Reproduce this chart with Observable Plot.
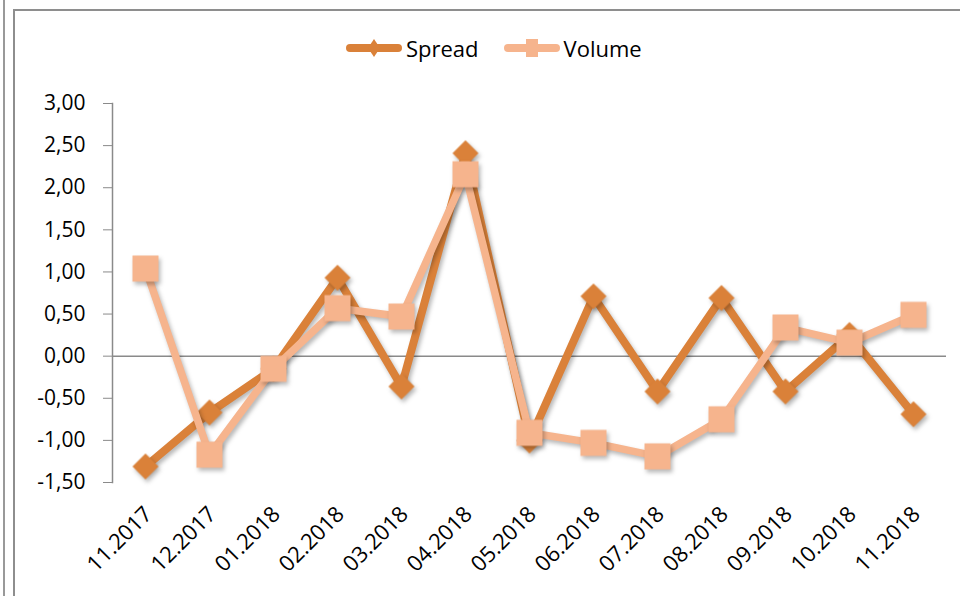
<!DOCTYPE html>
<html>
<head>
<meta charset="utf-8">
<script src="https://cdn.jsdelivr.net/npm/d3@7"></script>
<script src="https://cdn.jsdelivr.net/npm/@observablehq/plot@0.6"></script>
<style>
  html, body { margin: 0; padding: 0; background: #fff; }
  #page { position: relative; width: 960px; height: 596px; overflow: hidden; font-family: "Open Sans", sans-serif; }
  #edge1 { position: absolute; left: 3px; top: 0; width: 2px; height: 596px; background: #999; }
  #edge2 { position: absolute; left: 13px; top: 9px; width: 1000px; height: 700px; border-left: 2px solid #8e8e8e; border-top: 2px solid #8e8e8e; }
  #legend { position: absolute; left: 345px; top: 33px; height: 30px; display: flex; align-items: center; font-size: 22px; color: #000; }
  #legend .item { display: flex; align-items: center; margin-right: 24px; }
  #legend svg { display: block; margin-right: 3px; }
  #chart { position: absolute; left: 0; top: 80px; }
  .shadow { filter: drop-shadow(2px 3px 2px rgba(0,0,0,0.28)); }
</style>
</head>
<body>
<div id="page">
  <div id="edge1"></div>
  <div id="edge2"></div>
  <div id="legend"></div>
  <div id="chart"></div>
</div>
<script>
const months = ["11.2017","12.2017","01.2018","02.2018","03.2018","04.2018","05.2018","06.2018","07.2018","08.2018","09.2018","10.2018","11.2018"];
const spread = [-1.31,-0.67,-0.15,0.93,-0.36,2.41,-1.00,0.71,-0.42,0.69,-0.42,0.25,-0.69];
const volume = [1.04,-1.17,-0.15,0.57,0.47,2.16,-0.91,-1.03,-1.19,-0.75,0.34,0.16,0.49];
const seriesNames = ["Spread","Volume"];
const seriesColors = ["#DA8139","#F6B48D"];
const yTicks = [-1.5,-1,-0.5,0,0.5,1,1.5,2,2.5,3];

const dS = months.map((m,i)=>({month:m, value:spread[i]}));
const dV = months.map((m,i)=>({month:m, value:volume[i]}));
const fmt = d => d.toFixed(2).replace(".", ",");

const chart = Plot.plot({
  width: 960,
  height: 516,
  marginTop: 23,
  marginBottom: 114,
  marginLeft: 112,
  marginRight: 14,
  style: {background: "none", fontFamily: "Open Sans, sans-serif", fontSize: "21px", color: "#000", overflow: "visible"},
  x: {type: "point", domain: months, padding: 0.5},
  y: {domain: [-1.5, 3]},
  marks: [
    Plot.ruleY([0], {stroke: "#8a8a8a", strokeWidth: 1.5}),
    Plot.frame({anchor: "left", stroke: "#8a8a8a", strokeWidth: 1.5}),
    Plot.axisY({ticks: yTicks, tickFormat: fmt, tickSize: 9, tickPadding: 18, stroke: "#8a8a8a", fill: "#000", fontSize: 21, label: null}),
    Plot.axisX({tickSize: 0, tickRotate: -45, tickPadding: 28, dx: 3, fill: "#000", fontSize: 22, label: null}),
    Plot.lineY(dS, {x: "month", y: "value", stroke: seriesColors[0], strokeWidth: 8, strokeLinejoin: "round", strokeLinecap: "round", className: "shadow"}),
    Plot.dot(dS, {x: "month", y: "value", symbol: "diamond2", r: 11.7, fill: seriesColors[0], stroke: "none", className: "shadow"}),
    Plot.lineY(dV, {x: "month", y: "value", stroke: seriesColors[1], strokeWidth: 7.5, strokeLinejoin: "round", strokeLinecap: "round", className: "shadow"}),
    Plot.dot(dV, {x: "month", y: "value", symbol: "square", r: 14.7, fill: seriesColors[1], stroke: "none", className: "shadow"})
  ]
});
document.getElementById("chart").appendChild(chart);

// legend
const legend = document.getElementById("legend");
seriesNames.forEach((name, i) => {
  const item = document.createElement("div");
  item.className = "item";
  const ns = "http://www.w3.org/2000/svg";
  const s = document.createElementNS(ns, "svg");
  s.setAttribute("width", 58); s.setAttribute("height", 24);
  const ln = document.createElementNS(ns, "line");
  ln.setAttribute("x1", 5); ln.setAttribute("x2", 53); ln.setAttribute("y1", 12); ln.setAttribute("y2", 12);
  ln.setAttribute("stroke", seriesColors[i]); ln.setAttribute("stroke-width", 8); ln.setAttribute("stroke-linecap", "round");
  s.appendChild(ln);
  const mk = document.createElementNS(ns, "path");
  mk.setAttribute("d", i === 0 ? "M29,3L35,12L29,21L23,12Z" : "M23,3H35V21H23Z");
  mk.setAttribute("fill", seriesColors[i]);
  s.appendChild(mk);
  item.appendChild(s);
  const t = document.createElement("span");
  t.textContent = name;
  item.appendChild(t);
  legend.appendChild(item);
});
</script>
</body>
</html>
